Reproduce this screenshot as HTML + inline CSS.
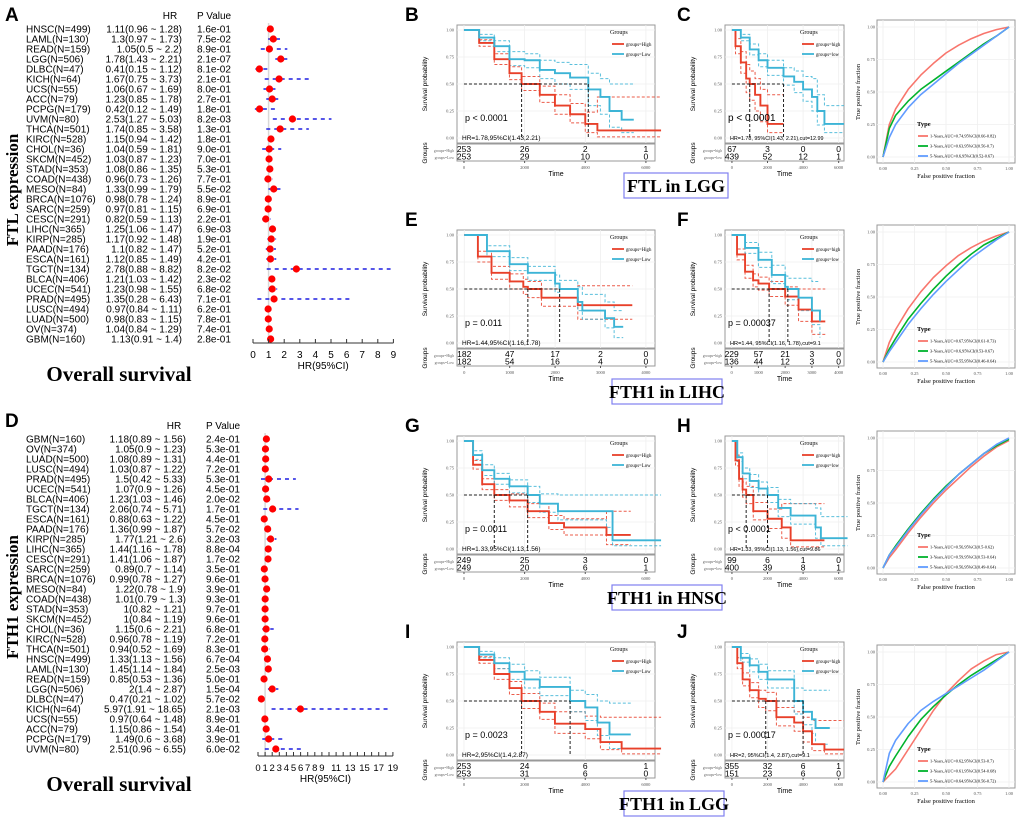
<!DOCTYPE html>
<html><head><meta charset="utf-8"><style>
html,body{margin:0;padding:0;background:#fff;}
svg{display:block;}
</style></head><body>
<svg id="fig" xmlns="http://www.w3.org/2000/svg" width="1020" height="819" viewBox="0 0 1020 819"></svg>
<script>
// ---------- Forest A data ----------
const A_names=["HNSC","LAML","READ","LGG","DLBC","KICH","UCS","ACC","PCPG","UVM","THCA","KIRC","CHOL","SKCM","STAD","COAD","MESO","BRCA","SARC","CESC","LIHC","KIRP","PAAD","ESCA","TGCT","BLCA","UCEC","PRAD","LUSC","LUAD","OV","GBM"];
const A_n=[499,130,159,506,47,64,55,79,179,80,501,528,36,452,353,438,84,1076,259,291,365,285,176,161,134,406,541,495,494,500,374,160];
const A_hr=[1.11,1.3,1.05,1.78,0.41,1.67,1.06,1.23,0.42,2.53,1.74,1.15,1.04,1.03,1.08,0.96,1.33,0.98,0.97,0.82,1.25,1.17,1.1,1.12,2.78,1.21,1.23,1.35,0.97,0.98,1.04,1.13];
const A_lo=[0.96,0.97,0.5,1.43,0.15,0.75,0.67,0.85,0.12,1.27,0.85,0.94,0.59,0.87,0.86,0.73,0.99,0.78,0.81,0.59,1.06,0.92,0.82,0.85,0.88,1.03,0.98,0.28,0.84,0.83,0.84,0.91];
const A_hi=[1.28,1.73,2.2,2.21,1.12,3.73,1.69,1.78,1.49,5.03,3.58,1.42,1.81,1.23,1.35,1.26,1.79,1.24,1.15,1.13,1.47,1.48,1.47,1.49,8.82,1.42,1.55,6.43,1.11,1.15,1.29,1.4];
const A_p=["1.6e-01","7.5e-02","8.9e-01","2.1e-07","8.1e-02","2.1e-01","8.0e-01","2.7e-01","1.8e-01","8.2e-03","1.3e-01","1.8e-01","9.0e-01","7.0e-01","5.3e-01","7.7e-01","5.5e-02","8.9e-01","6.9e-01","2.2e-01","6.9e-03","1.9e-01","5.2e-01","4.2e-01","8.2e-02","2.3e-02","6.8e-02","7.1e-01","6.2e-01","7.8e-01","7.4e-01","2.8e-01"];
const A_ticks=[0,1,2,3,4,5,6,7,8,9];
// ---------- Forest D data ----------
const D_names=["GBM","OV","LUAD","LUSC","PRAD","UCEC","BLCA","TGCT","ESCA","PAAD","KIRP","LIHC","CESC","SARC","BRCA","MESO","COAD","STAD","SKCM","CHOL","KIRC","THCA","HNSC","LAML","READ","LGG","DLBC","KICH","UCS","ACC","PCPG","UVM"];
const D_n=[160,374,500,494,495,541,406,134,161,176,285,365,291,259,1076,84,438,353,452,36,528,501,499,130,159,506,47,64,55,79,179,80];
const D_hr=[1.18,1.05,1.08,1.03,1.5,1.07,1.23,2.06,0.88,1.36,1.77,1.44,1.41,0.89,0.99,1.22,1.01,1,1,1.15,0.96,0.94,1.33,1.45,0.85,2,0.47,5.97,0.97,1.15,1.49,2.51];
const D_lo=[0.89,0.9,0.89,0.87,0.42,0.9,1.03,0.74,0.63,0.99,1.21,1.16,1.06,0.7,0.78,0.78,0.79,0.82,0.84,0.6,0.78,0.52,1.13,1.14,0.53,1.4,0.21,1.91,0.64,0.86,0.6,0.96];
const D_hi=[1.56,1.23,1.31,1.22,5.33,1.26,1.46,5.71,1.22,1.87,2.6,1.78,1.87,1.14,1.27,1.9,1.3,1.21,1.19,2.21,1.19,1.69,1.56,1.84,1.36,2.87,1.02,18.65,1.48,1.54,3.68,6.55];
const D_p=["2.4e-01","5.3e-01","4.4e-01","7.2e-01","5.3e-01","4.5e-01","2.0e-02","1.7e-01","4.5e-01","5.7e-02","3.2e-03","8.8e-04","1.7e-02","3.5e-01","9.6e-01","3.9e-01","9.3e-01","9.7e-01","9.6e-01","6.8e-01","7.2e-01","8.3e-01","6.7e-04","2.5e-03","5.0e-01","1.5e-04","5.7e-02","2.1e-03","8.9e-01","3.4e-01","3.9e-01","6.0e-02"];
const D_ticks=[0,1,2,3,4,5,6,7,8,9,11,13,15,17,19];
const D_tickMarks=[0,1,2,3,4,5,6,7,8,9,10,11,12,13,14,15,16,17,18,19];

// ---------- KM data ----------
const B_hiT=[0,500,1000,1500,1900,2500,3000,3500,4000,4400,6500];
const B_hiS=[1,.88,.73,.6,.5,.4,.3,.22,.13,.07,.07];
const B_hiL=[1,.85,.68,.54,.44,.33,.22,.14,.05,.01,.01];
const B_hiU=[1,.91,.78,.66,.57,.48,.4,.32,.24,.38,.38];
const B_loT=[0,500,1000,1500,2000,2500,3000,3500,4100,4500,4800,5200,5600];
const B_loS=[1,.93,.85,.73,.72,.63,.6,.56,.45,.38,.25,.17,.17];
const B_loL=[1,.9,.8,.67,.65,.55,.5,.45,.3,.22,.1,.05,.05];
const B_loU=[1,.96,.9,.8,.78,.72,.7,.68,.6,.55,.5,.5,.5];
const B_risk=[[253,26,2,1],[253,29,10,0]];

const C_hiT=[0,200,500,800,1000,1300,1600,2000,2900];
const C_hiS=[1,.85,.7,.55,.5,.4,.3,.13,.13];
const C_hiL=[1,.78,.6,.42,.35,.25,.15,.05,.05];
const C_hiU=[1,.92,.8,.68,.62,.55,.45,.4,.4];
const C_loT=[0,500,1000,1500,2000,2900,3500,4000,4500,4800,5200,6300];
const C_loS=[1,.93,.82,.72,.65,.57,.52,.45,.38,.25,.13,.13];
const C_loL=[1,.9,.77,.66,.58,.49,.42,.34,.25,.12,.05,.05];
const C_loU=[1,.96,.87,.78,.72,.65,.62,.57,.55,.4,.3,.3];
const C_risk=[[67,3,0,0],[439,52,12,1]];

const E_hiT=[0,300,600,1000,1300,1400,1700,2500,3700];
const E_hiS=[1,.8,.65,.57,.52,.5,.42,.35,.35];
const E_hiL=[1,.75,.59,.5,.45,.42,.34,.22,.22];
const E_hiU=[1,.85,.71,.64,.59,.57,.5,.53,.53];
const E_loT=[0,500,1000,1400,2000,2100,2500,2600,3100,3300,3500];
const E_loS=[1,.85,.73,.65,.55,.5,.38,.3,.23,.15,.15];
const E_loL=[1,.8,.67,.58,.47,.42,.3,.22,.14,.05,.05];
const E_loU=[1,.9,.79,.71,.63,.58,.52,.45,.38,.3,.3];
const E_risk=[[182,47,17,2,0],[182,54,16,4,0]];

const F_hiT=[0,200,500,800,1000,1400,2000,2500,3000,3500];
const F_hiS=[1,.82,.66,.58,.55,.5,.43,.31,.2,.2];
const F_hiL=[1,.77,.6,.52,.49,.43,.35,.2,.08,.08];
const F_hiU=[1,.87,.72,.64,.61,.57,.52,.5,.5,.5];
const F_loT=[0,500,1000,1500,2000,2100,2500,3000,3300];
const F_loS=[1,.88,.77,.63,.52,.5,.42,.3,.2];
const F_loL=[1,.83,.7,.55,.43,.4,.3,.17,.05];
const F_loU=[1,.93,.84,.72,.62,.6,.6,.57,.57];
const F_risk=[[229,57,21,3,0],[136,44,12,3,0]];

const G_hiT=[0,300,600,1000,1500,2100,2800,3300,4700,5500];
const G_hiS=[1,.78,.6,.5,.45,.35,.24,.2,.13,.13];
const G_hiL=[1,.74,.55,.45,.39,.29,.18,.13,.04,.04];
const G_hiU=[1,.82,.65,.55,.51,.42,.31,.28,.35,.35];
const G_loT=[0,300,600,1000,1500,2100,2500,3100,4700,4900,6500];
const G_loS=[1,.87,.73,.65,.58,.5,.42,.35,.35,.08,.08];
const G_loL=[1,.83,.68,.6,.52,.43,.34,.27,.2,.03,.03];
const G_loU=[1,.91,.78,.7,.64,.58,.51,.5,.5,.5,.5];
const G_risk=[[249,25,3,0],[249,20,6,1]];

const H_hiT=[0,200,400,600,800,1200,2000,2800,3300,5200];
const H_hiS=[1,.82,.65,.55,.5,.35,.28,.2,.08,.08];
const H_hiL=[1,.77,.58,.48,.42,.27,.19,.1,.02,.02];
const H_hiU=[1,.87,.72,.62,.58,.43,.37,.42,.42,.42];
const H_loT=[0,300,600,1000,1500,2000,2600,3300,4700,5000,6500];
const H_loS=[1,.85,.7,.63,.56,.5,.38,.31,.2,.1,.1];
const H_loL=[1,.81,.65,.57,.5,.43,.3,.23,.1,.03,.03];
const H_loU=[1,.89,.75,.69,.62,.57,.46,.42,.38,.3,.3];
const H_risk=[[99,6,1,0],[400,39,8,1]];

const I_hiT=[0,500,1000,1500,1900,2500,3000,4000,4500,5200,6500];
const I_hiS=[1,.88,.75,.62,.5,.4,.29,.24,.12,.06,.06];
const I_hiL=[1,.85,.7,.56,.43,.33,.2,.15,.05,.01,.01];
const I_hiU=[1,.91,.8,.68,.57,.48,.4,.36,.35,.35,.35];
const I_loT=[0,500,1000,1500,2000,2500,3500,4000,4400,4800,5500];
const I_loS=[1,.93,.85,.77,.7,.63,.5,.44,.3,.19,.19];
const I_loL=[1,.9,.8,.7,.62,.55,.4,.32,.18,.06,.06];
const I_loU=[1,.96,.9,.84,.78,.72,.6,.56,.5,.48,.48];
const I_risk=[[253,24,6,1],[253,31,6,0]];

const J_hiT=[0,300,600,1000,1500,1900,2500,3500,4000,4500,5200,6300];
const J_hiS=[1,.85,.7,.6,.52,.5,.35,.3,.22,.1,.05,.05];
const J_hiL=[1,.8,.64,.53,.44,.41,.27,.22,.12,.04,.01,.01];
const J_hiU=[1,.9,.76,.67,.6,.58,.44,.4,.35,.32,.32,.32];
const J_loT=[0,500,1000,1500,2000,3500,4000,4500,4700,5500];
const J_loS=[1,.9,.83,.77,.7,.5,.4,.33,.25,.25];
const J_loL=[1,.86,.77,.7,.62,.38,.28,.2,.1,.1];
const J_loU=[1,.94,.89,.84,.78,.62,.6,.6,.6,.6];
const J_risk=[[355,32,6,1],[151,23,6,0]];

// ---------- ROC data ----------
const ROC_fpr=[0,.05,.1,.2,.3,.4,.5,.6,.7,.8,.9,1];
const C_roc1=[0,.25,.37,.52,.63,.72,.8,.86,.91,.95,.98,1];
const C_roc3=[0,.22,.32,.43,.52,.59,.66,.73,.8,.87,.93,1];
const C_roc5=[0,.15,.25,.38,.48,.56,.64,.72,.79,.86,.93,1];
const F_roc1=[0,.15,.25,.41,.54,.65,.74,.82,.88,.93,.97,1];
const F_roc3=[0,.1,.18,.33,.45,.56,.66,.75,.83,.9,.95,1];
const F_roc5=[0,.08,.15,.29,.41,.52,.62,.71,.8,.87,.94,1];
const H_roc1=[0,.08,.14,.27,.39,.5,.6,.69,.78,.86,.93,.98];
const H_roc3=[0,.1,.17,.3,.42,.53,.63,.72,.8,.88,.94,.99];
const H_roc5=[0,.1,.16,.29,.41,.52,.62,.72,.8,.88,.95,1];
const J_roc1=[0,.05,.1,.25,.4,.55,.68,.78,.87,.93,.98,1];
const J_roc3=[0,.12,.2,.35,.48,.58,.67,.75,.82,.88,.94,1];
const J_roc5=[0,.22,.32,.45,.55,.62,.68,.74,.8,.86,.93,1];

const svg=document.getElementById('fig');
const NS='http://www.w3.org/2000/svg';
function el(tag,attrs,parent){const e=document.createElementNS(NS,tag);for(const k in attrs)e.setAttribute(k,attrs[k]);(parent||svg).appendChild(e);return e;}
function txt(x,y,s,attrs,parent){const t=el('text',Object.assign({x:x,y:y},attrs||{}),parent);t.textContent=s;return t;}

// ---------- Forest ----------
function forest(names,ns,hr,lo,hi,ps,o){
  const g=el('g',{});
  
  
  const sx=v=>o.x0+v*o.ppu;
  const h1=txt(o.hrX-12,o.rowY-10,'HR',{'font-family':'Liberation Sans','font-size':10,'text-anchor':'middle'},g);
  
  const h2=txt(o.pX,o.rowY-10,'P Value',{'font-family':'Liberation Sans','font-size':10},g);
  
  const topY=o.rowY-6, botY=o.axisY;
  const ref=el('line',{x1:sx(1),x2:sx(1),y1:topY,y2:botY,stroke:'#d8d8d8','stroke-width':1.5},g);
  
  for(let i=0;i<names.length;i++){
    const y=o.rowY+i*o.step;
    const r=el('g',{},g);
    
    
    txt(26,y+3.5,names[i]+'(N='+ns[i]+')',{'font-family':'Liberation Sans','font-size':10},r);
    txt(o.hrX,y+3.5,hr[i]+'('+lo[i]+' ~ '+hi[i]+')',{'font-family':'Liberation Sans','font-size':10,'text-anchor':'end'},r);
    txt(o.pX,y+3.5,ps[i],{'font-family':'Liberation Sans','font-size':10},r);
    el('line',{x1:sx(lo[i]),x2:sx(hi[i]),y1:y,y2:y,stroke:'#1f1fe0','stroke-width':1.6,'stroke-dasharray':'4,4'},r);
    el('circle',{cx:sx(hr[i]),cy:y,r:3.6,fill:'#ff0000'},r);
  }
  const ax=el('g',{},g);
  
  el('line',{x1:sx(0),x2:sx(o.tmax),y1:o.axisY,y2:o.axisY,stroke:'#333','stroke-width':1},ax);
  o.marks.forEach(v=>el('line',{x1:sx(v),x2:sx(v),y1:o.axisY-4,y2:o.axisY,stroke:'#333','stroke-width':1},ax));
  o.labels.forEach(v=>txt(sx(v),o.axisY+15,String(v),{'font-family':'Liberation Sans','font-size':o.lfs,'text-anchor':'middle'},ax));
  const xt=txt((sx(0)+sx(o.tmax))/2,o.axisY+26,'HR(95%CI)',{'font-family':'Liberation Sans','font-size':10,'text-anchor':'middle'},g);
  
  const os=txt(119,o.osY,'Overall survival',{'font-family':'Liberation Serif','font-size':21,'font-weight':'bold','text-anchor':'middle'},g);
  
  const yt=txt(0,0,o.ylab,{'font-family':'Liberation Serif','font-size':17,'font-weight':'bold','text-anchor':'middle',transform:'translate(18,'+o.ylabY+') rotate(-90)'},g);
  
}
forest(A_names,A_n,A_hr,A_lo,A_hi,A_p,{name:'forest-plot-a',rowY:29,step:10,x0:253,ppu:15.6,tmax:9,axisY:343,marks:A_ticks,labels:A_ticks,lfs:10,hrX:182,pX:197,osY:381,ylab:'FTL expression',ylabY:190});
forest(D_names,D_n,D_hr,D_lo,D_hi,D_p,{name:'forest-plot-d',rowY:439,step:10,x0:258,ppu:7.1,tmax:19,axisY:756,marks:D_tickMarks,labels:D_ticks,lfs:9.5,hrX:186,pX:206,osY:791,ylab:'FTH1 expression',ylabY:597});

// panel letters
[['A',5,21],['D',5,427],['B',405,21],['C',677,21],['E',405,226],['F',677,226],['G',405,432],['H',677,432],['I',405,638],['J',677,638]].forEach(p=>{
  const t=txt(p[1],p[2],p[0],{'font-family':'Liberation Sans','font-size':19,'font-weight':'bold'});
  
});

// ---------- KM ----------
const RED='#e8402a', BLUE='#3cb4d6';
function stepPath(T,S,sx,sy){let d='M'+sx(T[0])+','+sy(S[0]);for(let i=1;i<T.length;i++){d+=' H'+sx(T[i])+' V'+sy(S[i]);}return d;}
function km(o){
  const g=el('g',{});
  
  
  const x0=o.bx0,x1=o.bx1,top=o.top;
  const sx=t=>x0+(t-o.dom[0])/(o.dom[1]-o.dom[0])*(x1-x0);
  const sy=s=>top+118-s*108-5;
  el('rect',{x:x0,y:top,width:x1-x0,height:118,fill:'#fff',stroke:'#999','stroke-width':1},g);
  o.ticks.forEach(t=>el('line',{x1:sx(t),x2:sx(t),y1:top,y2:top+118,stroke:'#efefef','stroke-width':.8},g));
  [0,.25,.5,.75,1].forEach(s=>{el('line',{x1:x0,x2:x1,y1:sy(s),y2:sy(s),stroke:'#efefef','stroke-width':.8},g);
    txt(x0-3,sy(s)+1.5,s.toFixed(2),{'font-family':'Liberation Serif','font-size':4.5,'text-anchor':'end',fill:'#555'},g);});
  const d=o.d;
  [[d.hiT,d.hiL,RED],[d.hiT,d.hiU,RED],[d.loT,d.loL,BLUE],[d.loT,d.loU,BLUE]].forEach(c=>{
    const p=el('path',{d:stepPath(c[0],c[1],sx,sy),fill:'none',stroke:c[2],'stroke-width':1,'stroke-dasharray':'3,2',opacity:.85},g);
    
  });
  const ph=el('path',{d:stepPath(d.hiT,d.hiS,sx,sy),fill:'none',stroke:RED,'stroke-width':1.9},g);
  
  const pl=el('path',{d:stepPath(d.loT,d.loS,sx,sy),fill:'none',stroke:BLUE,'stroke-width':1.9},g);
  
  el('path',{d:'M'+sx(0)+','+sy(.5)+' H'+sx(o.med[1])+' M'+sx(o.med[0])+','+sy(.5)+' V'+sy(0)+' M'+sx(o.med[1])+','+sy(.5)+' V'+sy(0),fill:'none',stroke:'#222','stroke-width':1,'stroke-dasharray':'3,2'},g);
  const lg=el('g',{},g);
  
  const lx=x1-o.lw;
  txt(lx,top+9,'Groups',{'font-family':'Liberation Serif','font-size':6},lg);
  [[RED,o.lab[0],top+19],[BLUE,o.lab[1],top+29]].forEach(e=>{
    el('line',{x1:lx+2,x2:lx+14,y1:e[2],y2:e[2],stroke:e[0],'stroke-width':1.8},lg);
    txt(lx+16,e[2]+1.8,e[1],{'font-family':'Liberation Serif','font-size':4.8},lg);
  });
  const pt=txt(x0+o.pdx,top+96,o.p,{'font-family':'Liberation Sans','font-size':o.pfs},g);
  
  const ht=txt(x0+5,top+115,o.hr,{'font-family':'Liberation Sans','font-size':o.hfs},g);
  
  const rt=el('g',{},g);
  
  el('rect',{x:x0,y:top+119,width:x1-x0,height:17,fill:'#fff',stroke:'#999','stroke-width':1},rt);
  o.ticks.forEach((t,i)=>{
    txt(sx(t),top+127,String(o.risk[0][i]),{'font-family':'Liberation Sans','font-size':8.5,'text-anchor':'middle'},rt);
    txt(sx(t),top+134.5,String(o.risk[1][i]),{'font-family':'Liberation Sans','font-size':8.5,'text-anchor':'middle'},rt);
    el('line',{x1:sx(t),x2:sx(t),y1:top+136,y2:top+138,stroke:'#555'},rt);
    txt(sx(t),top+144,String(t),{'font-family':'Liberation Serif','font-size':4.5,'text-anchor':'middle',fill:'#555'},rt);
  });
  txt(x0-3,top+127,o.lab[0],{'font-family':'Liberation Serif','font-size':3.8,'text-anchor':'end',fill:'#666'},rt);
  txt(x0-3,top+134,o.lab[1],{'font-family':'Liberation Serif','font-size':3.8,'text-anchor':'end',fill:'#666'},rt);
  txt((x0+x1)/2,top+151,'Time',{'font-family':'Liberation Sans','font-size':7,'text-anchor':'middle'},g);
  txt(0,0,'Survival probability',{'font-family':'Liberation Sans','font-size':6.5,'text-anchor':'middle',transform:'translate('+(x0-30)+','+(top+59)+') rotate(-90)'},g);
  txt(0,0,'Groups',{'font-family':'Liberation Sans','font-size':6.5,'text-anchor':'middle',transform:'translate('+(x0-30)+','+(top+128)+') rotate(-90)'},g);
}
function D(p){return {hiT:p[0],hiS:p[1],hiL:p[2],hiU:p[3],loT:p[4],loS:p[5],loL:p[6],loU:p[7]};}
const T6=[0,2000,4000,6000], T4=[0,1000,2000,3000,4000];
const Lh=['groups=High','groups=Low'], Ll=['groups=high','groups=low'];
const rows=[25,230,436,642];
km({name:'km-b',bx0:457,bx1:655,top:rows[0],dom:[-230,6300],ticks:T6,d:D([B_hiT,B_hiS,B_hiL,B_hiU,B_loT,B_loS,B_loL,B_loU]),med:[1900,4100],risk:B_risk,lab:Lh,lw:45,p:'p < 0.0001',pfs:9,hr:'HR=1.78,95%CI(1.43,2.21)',hfs:6.5,pdx:8});
km({name:'km-c',bx0:725,bx1:844,top:rows[0],dom:[-390,6300],ticks:T6,d:D([C_hiT,C_hiS,C_hiL,C_hiU,C_loT,C_loS,C_loL,C_loU]),med:[1000,2900],risk:C_risk,lab:Ll,lw:44,p:'p < 0.0001',pfs:10,hr:'HR=1.78, 95%CI(1.43, 2.21),cut=12.99',hfs:5.4,pdx:3});
km({name:'km-e',bx0:457,bx1:655,top:rows[1],dom:[-160,4200],ticks:T4,d:D([E_hiT,E_hiS,E_hiL,E_hiU,E_loT,E_loS,E_loL,E_loU]),med:[1400,2100],risk:E_risk,lab:Lh,lw:45,p:'p = 0.011',pfs:9,hr:'HR=1.44,95%CI(1.16,1.78)',hfs:6.5,pdx:8});
km({name:'km-f',bx0:725,bx1:844,top:rows[1],dom:[-250,4200],ticks:T4,d:D([F_hiT,F_hiS,F_hiL,F_hiU,F_loT,F_loS,F_loL,F_loU]),med:[1400,2100],risk:F_risk,lab:Ll,lw:44,p:'p = 0.00037',pfs:9,hr:'HR=1.44, 95%CI(1.16, 1.78),cut=9.1',hfs:5.6,pdx:3});
km({name:'km-g',bx0:457,bx1:655,top:rows[2],dom:[-230,6300],ticks:T6,d:D([G_hiT,G_hiS,G_hiL,G_hiU,G_loT,G_loS,G_loL,G_loU]),med:[1000,2100],risk:G_risk,lab:Lh,lw:45,p:'p = 0.0011',pfs:9,hr:'HR=1.33,95%CI(1.13,1.56)',hfs:6.5,pdx:8});
km({name:'km-h',bx0:725,bx1:844,top:rows[2],dom:[-390,6300],ticks:T6,d:D([H_hiT,H_hiS,H_hiL,H_hiU,H_loT,H_loS,H_loL,H_loU]),med:[800,2000],risk:H_risk,lab:Ll,lw:44,p:'p < 0.0001',pfs:9,hr:'HR=1.33, 95%CI(1.13, 1.56),cut=9.86',hfs:5.4,pdx:3});
km({name:'km-i',bx0:457,bx1:655,top:rows[3],dom:[-230,6300],ticks:T6,d:D([I_hiT,I_hiS,I_hiL,I_hiU,I_loT,I_loS,I_loL,I_loU]),med:[1900,3500],risk:I_risk,lab:Lh,lw:45,p:'p = 0.0023',pfs:9,hr:'HR=2,95%CI(1.4,2.87)',hfs:6.5,pdx:8});
km({name:'km-j',bx0:725,bx1:844,top:rows[3],dom:[-390,6300],ticks:T6,d:D([J_hiT,J_hiS,J_hiL,J_hiU,J_loT,J_loS,J_loL,J_loU]),med:[1900,4000],risk:J_risk,lab:Ll,lw:44,p:'p = 0.00017',pfs:9,hr:'HR=2, 95%CI(1.4, 2.87),cut=9.1',hfs:5.6,pdx:3});

// ---------- ROC ----------
function roc(o){
  const g=el('g',{});
  
  
  const top=o.top, sx=v=>883+v*126, sy=v=>top+137-v*130;
  el('rect',{x:877,y:top,width:138,height:143,fill:'#fff',stroke:'#999','stroke-width':1},g);
  [0,.25,.5,.75,1].forEach(v=>{
    el('line',{x1:sx(v),x2:sx(v),y1:top,y2:top+143,stroke:'#efefef','stroke-width':.8},g);
    el('line',{x1:877,x2:1015,y1:sy(v),y2:sy(v),stroke:'#efefef','stroke-width':.8},g);
    txt(875,sy(v)+1.5,v.toFixed(2),{'font-family':'Liberation Serif','font-size':4.5,'text-anchor':'end',fill:'#555'},g);
    txt(sx(v),top+150,v.toFixed(2),{'font-family':'Liberation Serif','font-size':4.5,'text-anchor':'middle',fill:'#555'},g);
  });
  const cols=['#f8766d','#00b32c','#619cff'];
  [o.r1,o.r3,o.r5].forEach((arr,k)=>{
    let d='';ROC_fpr.forEach((f,i)=>{d+=(i?' L':'M')+sx(f)+','+sy(arr[i]);});
    const p=el('path',{d:d,fill:'none',stroke:cols[k],'stroke-width':1.6,'stroke-linejoin':'round'},g);
    
  });
  const lg=el('g',{},g);
  
  txt(917,top+106,'Type',{'font-family':'Liberation Serif','font-size':6.5,'font-weight':'bold'},lg);
  o.leg.forEach((s,k)=>{
    const y=top+116+k*10;
    el('line',{x1:918,x2:928,y1:y,y2:y,stroke:cols[k],'stroke-width':1.8},lg);
    txt(930,y+1.6,s,{'font-family':'Liberation Serif','font-size':4.3},lg);
  });
  txt(946,top+158,'False positive fraction',{'font-family':'Liberation Serif','font-size':6.5,'text-anchor':'middle'},g);
  txt(0,0,'True positive fraction',{'font-family':'Liberation Serif','font-size':6.5,'text-anchor':'middle',transform:'translate(860,'+(top+72)+') rotate(-90)'},g);
}
roc({name:'roc-c',top:20,r1:C_roc1,r3:C_roc3,r5:C_roc5,leg:['1-Years,AUC=0.74,95%CI(0.66-0.82)','3-Years,AUC=0.63,95%CI(0.56-0.7)','5-Years,AUC=0.6,95%CI(0.52-0.67)']});
roc({name:'roc-f',top:225,r1:F_roc1,r3:F_roc3,r5:F_roc5,leg:['1-Years,AUC=0.67,95%CI(0.61-0.73)','3-Years,AUC=0.6,95%CI(0.53-0.67)','5-Years,AUC=0.55,95%CI(0.46-0.64)']});
roc({name:'roc-h',top:431,r1:H_roc1,r3:H_roc3,r5:H_roc5,leg:['1-Years,AUC=0.56,95%CI(0.5-0.62)','3-Years,AUC=0.59,95%CI(0.53-0.64)','5-Years,AUC=0.56,95%CI(0.49-0.64)']});
roc({name:'roc-j',top:645,r1:J_roc1,r3:J_roc3,r5:J_roc5,leg:['1-Years,AUC=0.62,95%CI(0.53-0.7)','3-Years,AUC=0.61,95%CI(0.54-0.68)','5-Years,AUC=0.64,95%CI(0.56-0.72)']});

// caption boxes
[['FTL in LGG',624,173,104],['FTH1 in LIHC',612,379,110],['FTH1 in HNSC',612,585,110],['FTH1 in LGG',624,791,100]].forEach(b=>{
  const g=el('g',{});
  
  
  el('rect',{x:b[1],y:b[2],width:b[3],height:25,fill:'#fff',stroke:'#8080f0','stroke-width':1.2},g);
  txt(b[1]+b[3]/2,b[2]+19,b[0],{'font-family':'Liberation Serif','font-size':18,'font-weight':'bold','text-anchor':'middle'},g);
});
</script>
</body></html>
